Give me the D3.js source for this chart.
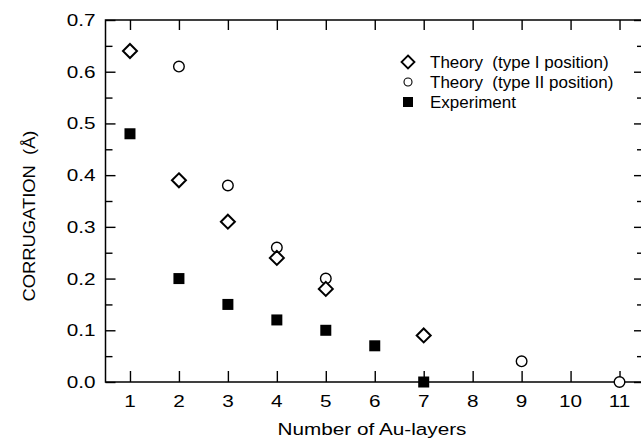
<!DOCTYPE html>
<html><head><meta charset="utf-8">
<script src="https://cdn.jsdelivr.net/npm/d3@7"></script>
<style>body{margin:0;background:#fff}svg{display:block}text{font-family:"Liberation Sans",Arial,Helvetica,sans-serif;fill:#000;white-space:pre}</style>
</head><body><svg id="c" width="641" height="440"></svg>
<script>
const xTicks = [1,2,3,4,5,6,7,8,9,10,11];
const yTicks = [0,0.1,0.2,0.3,0.4,0.5,0.6,0.7];
const yMinor = [0.05,0.15,0.25,0.35,0.45,0.55,0.65];
const typeIx = [1,2,3,4,5,7];
const typeIy = [0.64,0.39,0.31,0.24,0.18,0.09];
const typeIIx = [2,3,4,5,9,11];
const typeIIy = [0.61,0.38,0.26,0.20,0.04,0.0];
const expX = [1,2,3,4,5,6,7];
const expY = [0.48,0.20,0.15,0.12,0.10,0.07,0.0];
const legendLabels = ["Theory  (type I position)","Theory  (type II position)","Experiment"];
const xTitle = "Number of Au-layers";
const yTitle = "CORRUGATION  (Å)";

const SX = 1.22; // horizontal stretch of axis lettering in the reference
const svg = d3.select("#c");
const x = d3.scaleLinear().domain([0.5,11.5]).range([105.5,644]);
const y = d3.scaleLinear().domain([0,0.7]).range([382,20]);
const g = svg.append("g");
g.append("rect").attr("x",x(0.5)).attr("y",y(0.7)).attr("width",x(11.5)-x(0.5)).attr("height",y(0)-y(0.7))
 .attr("fill","none").attr("stroke","#000").attr("stroke-width",1.5);

const axes = [
 g.append("g").attr("transform",`translate(0,${y(0)})`).call(d3.axisBottom(x).tickValues(xTicks).tickSize(-11).tickFormat("")),
 g.append("g").attr("transform",`translate(0,${y(0.7)})`).call(d3.axisTop(x).tickValues(xTicks).tickSize(-10).tickFormat("")),
 g.append("g").attr("transform",`translate(${x(0.5)},0)`).call(d3.axisLeft(y).tickValues(yTicks).tickSize(-10).tickFormat("")),
 g.append("g").attr("transform",`translate(${x(0.5)},0)`).call(d3.axisLeft(y).tickValues(yMinor).tickSize(-7).tickFormat("")),
 g.append("g").attr("transform",`translate(${x(11.5)},0)`).call(d3.axisRight(y).tickValues(yTicks).tickSize(-10).tickFormat("")),
 g.append("g").attr("transform",`translate(${x(11.5)},0)`).call(d3.axisRight(y).tickValues(yMinor).tickSize(-7).tickFormat(""))
];
axes.forEach(a=>{a.select(".domain").remove();a.selectAll("line").attr("stroke","#000").attr("stroke-width",1.4);});

g.selectAll(".xl").data(xTicks).join("text")
 .attr("transform",d=>`translate(${x(d)},${y(0)+25}) scale(${SX},1)`)
 .attr("text-anchor","middle").style("font-size","17px").text(d3.format("d"));
g.selectAll(".yl").data(yTicks).join("text")
 .attr("transform",d=>`translate(${x(0.5)-10},${y(d)+6}) scale(${SX},1)`)
 .attr("text-anchor","end").style("font-size","17px").text(d3.format(".1f"));

function diamondPath(s){return `M0,${-s}L${s},0L0,${s}L${-s},0Z`;}
g.selectAll(".ex").data(expX.map((d,i)=>[d,expY[i]])).join("rect")
 .attr("x",d=>x(d[0])-5.5).attr("y",d=>y(d[1])-5.5).attr("width",11).attr("height",11).attr("fill","#000");
g.selectAll(".c2").data(typeIIx.map((d,i)=>[d,typeIIy[i]])).join("circle")
 .attr("cx",d=>x(d[0])).attr("cy",d=>y(d[1])).attr("r",5.3).attr("fill","#fff").attr("stroke","#000").attr("stroke-width",1.4);
g.selectAll(".d1").data(typeIx.map((d,i)=>[d,typeIy[i]])).join("path")
 .attr("transform",d=>`translate(${x(d[0])},${y(d[1])})`).attr("d",diamondPath(7))
 .attr("fill","#fff").attr("stroke","#000").attr("stroke-width",2);

const lg = svg.append("g").attr("transform","translate(408,0)");
lg.append("path").attr("transform","translate(0,62)").attr("d",diamondPath(6.5)).attr("fill","#fff").attr("stroke","#000").attr("stroke-width",1.8);
lg.append("circle").attr("cx",0).attr("cy",82).attr("r",4).attr("fill","#fff").attr("stroke","#000").attr("stroke-width",1.1);
lg.append("rect").attr("x",-5).attr("y",97).attr("width",10).attr("height",10).attr("fill","#000");
legendLabels.forEach((t,i)=>lg.append("text").attr("x",22).attr("y",68+i*20).style("font-size","17px").text(t));

svg.append("text").attr("transform",`translate(372,435) scale(${SX},1)`).attr("text-anchor","middle").style("font-size","17px").text(xTitle);
svg.append("text").attr("transform",`translate(35,216) rotate(-90) scale(1.08,1)`).attr("text-anchor","middle").style("font-size","17px").text(yTitle);
</script></body></html>
